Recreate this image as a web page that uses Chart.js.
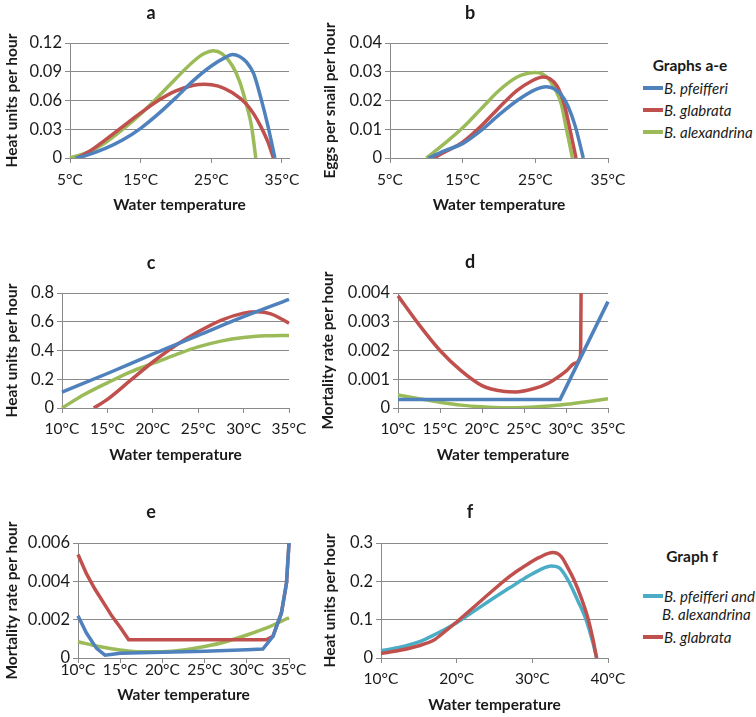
<!DOCTYPE html>
<html>
<head>
<meta charset="utf-8">
<script src="https://cdn.jsdelivr.net/npm/chart.js@4.4.1/dist/chart.umd.min.js"></script>
<style>
  body { margin: 0; background: #fff; width: 756px; height: 717px; position: relative; overflow: hidden; font-family: Lato, "Open Sans", sans-serif; color: #1a1a1a; }
  canvas { position: absolute; }
  .lt { position: absolute; font-size: 15.5px; font-weight: bold; transform: translate(-50%, -50%); white-space: nowrap; }
  .li { position: absolute; font-size: 15px; font-style: italic; transform: translateY(-50%); white-space: nowrap; }
  .sw { position: absolute; width: 20px; height: 4px; margin-top: -2px; }
</style>
</head>
<body>
<canvas id="ca"></canvas>
<canvas id="cb"></canvas>
<canvas id="cc"></canvas>
<canvas id="cd"></canvas>
<canvas id="ce"></canvas>
<canvas id="cf"></canvas>

<div class="lt" style="left:690px;top:65px">Graphs a-e</div>
<div class="sw" style="left:643px;top:88px;background:#4f81bd"></div><div class="li" style="left:664px;top:88px">B. pfeifferi</div>
<div class="sw" style="left:643px;top:110px;background:#c0504d"></div><div class="li" style="left:664px;top:110px">B. glabrata</div>
<div class="sw" style="left:643px;top:132px;background:#9bbb59"></div><div class="li" style="left:664px;top:132px">B. alexandrina</div>

<div class="lt" style="left:692px;top:556px">Graph f</div>
<div class="sw" style="left:643px;top:596px;background:#4bacc6"></div><div class="li" style="left:664px;top:596px">B. pfeifferi and</div>
<div class="li" style="left:662px;top:614px">B. alexandrina</div>
<div class="sw" style="left:643px;top:637px;background:#c0504d"></div><div class="li" style="left:664px;top:637px">B. glabrata</div>

<script>
// a: heat units per hour (development)
const aPfT = [5.8, 7, 10, 12.5, 15, 17.5, 20, 22.5, 25, 27, 28, 29, 30, 31, 32, 33, 34];
const aPfV = [0, 0.002, 0.01, 0.019, 0.031, 0.046, 0.063, 0.081, 0.096, 0.105, 0.108, 0.106, 0.1, 0.088, 0.063, 0.034, 0];
const aGlT = [6, 8, 10, 12.5, 15, 17.5, 20, 22.5, 24, 26, 28, 30, 31, 32, 33, 33.8];
const aGlV = [0, 0.008, 0.019, 0.033, 0.047, 0.06, 0.07, 0.076, 0.077, 0.075, 0.068, 0.056, 0.046, 0.033, 0.017, 0];
const aAlT = [5, 7.5, 10, 12.5, 15, 17.5, 20, 22.5, 24, 25.3, 26.5, 28, 29, 30, 30.7, 31.3];
const aAlV = [0, 0.006, 0.016, 0.03, 0.046, 0.064, 0.083, 0.101, 0.109, 0.112, 0.109, 0.096, 0.08, 0.055, 0.033, 0];
const aYTicks = [0, 0.03, 0.06, 0.09, 0.12];
const aYLabels = ['0', '0.03', '0.06', '0.09', '0.12'];
const aXTicks = [5, 15, 25, 35];

// b: eggs per snail per hour
const bPfT = [10.3, 12.5, 15, 17.5, 20, 22.5, 25, 26.5, 27.5, 28.5, 29.5, 30.5, 31.6];
const bPfV = [0, 0.0025, 0.005, 0.0095, 0.015, 0.02, 0.0238, 0.0248, 0.0242, 0.0222, 0.018, 0.011, 0];
const bGlT = [11, 12.5, 15, 17.5, 20, 22.5, 24.5, 26, 27, 28, 29, 29.8, 30.6];
const bGlV = [0, 0.002, 0.0055, 0.011, 0.0175, 0.0235, 0.0268, 0.0282, 0.0276, 0.025, 0.0185, 0.0095, 0];
const bAlT = [10, 12.5, 15, 17.5, 20, 22.5, 24, 25, 26, 27, 28, 28.6, 29.2, 29.7, 30.1];
const bAlV = [0, 0.005, 0.0105, 0.017, 0.0235, 0.0282, 0.0295, 0.0297, 0.0292, 0.027, 0.0225, 0.0185, 0.011, 0.005, 0];
const bYTicks = [0, 0.01, 0.02, 0.03, 0.04];
const bYLabels = ['0', '0.01', '0.02', '0.03', '0.04'];
const bXTicks = [5, 15, 25, 35];

// c: heat units per hour (second model)
const cPfT = [10, 15, 20, 25, 30, 35];
const cPfV = [0.11, 0.24, 0.375, 0.505, 0.635, 0.755];
const cGlT = [13.5, 15, 17.5, 20, 22.5, 25, 27.5, 30, 31.5, 33, 35];
const cGlV = [0, 0.06, 0.19, 0.32, 0.435, 0.53, 0.61, 0.66, 0.67, 0.655, 0.59];
const cAlT = [10, 12.5, 15, 17.5, 20, 22.5, 25, 27.5, 30, 32.5, 35];
const cAlV = [0, 0.095, 0.175, 0.25, 0.31, 0.37, 0.425, 0.465, 0.49, 0.502, 0.505];
const cYTicks = [0, 0.2, 0.4, 0.6, 0.8];
const cYLabels = ['0', '0.2', '0.4', '0.6', '0.8'];
const cXTicks = [10, 15, 20, 25, 30, 35];

// d: mortality rate per hour
const dPfT = [10, 29.3, 35];
const dPfV = [0.0003, 0.0003, 0.0037];
const dGlT = [10, 12.5, 15, 17.5, 20, 22.5, 24, 26, 28, 30, 31, 31.7, 31.75, 31.85];
const dGlV = [0.0039, 0.0029, 0.002, 0.0013, 0.00078, 0.00058, 0.00056, 0.00066, 0.00088, 0.00128, 0.00155, 0.0018, 0.0022, 0.0065];
const dAlT = [10, 12.5, 15, 17.5, 20, 22.5, 25, 27.5, 30, 32.5, 35];
const dAlV = [0.00045, 0.00032, 0.0002, 0.0001, 0.00004, 0.00001, 0.00002, 0.00006, 0.00013, 0.00022, 0.00032];
const dYTicks = [0, 0.001, 0.002, 0.003, 0.004];
const dYLabels = ['0', '0.001', '0.002', '0.003', '0.004'];
const dXTicks = [10, 15, 20, 25, 30, 35];

// e: mortality rate per hour (second model)
const ePfT = [10, 11, 12.2, 13.2, 15, 20, 25, 30, 31.9, 33.1, 34.1, 34.7, 35];
const ePfV = [0.0022, 0.0013, 0.0005, 0.00015, 0.00025, 0.0003, 0.00035, 0.00043, 0.00047, 0.00113, 0.00235, 0.0039, 0.006];
const eGlT = [10, 11, 12, 13, 14, 15, 16, 32.3, 33.1, 34.1, 34.7, 35];
const eGlV = [0.0054, 0.0044, 0.0036, 0.0029, 0.0022, 0.0016, 0.00095, 0.00095, 0.00113, 0.00235, 0.0039, 0.006];
const eAlT = [10, 12.5, 15, 17.5, 20, 22.5, 25, 27.5, 30, 32.5, 35];
const eAlV = [0.00085, 0.0006, 0.00042, 0.00032, 0.00033, 0.00042, 0.0006, 0.00085, 0.0012, 0.0016, 0.0021];
const eYTicks = [0, 0.002, 0.004, 0.006];
const eYLabels = ['0', '0.002', '0.004', '0.006'];
const eXTicks = [10, 15, 20, 25, 30, 35];

// f: heat units per hour, graph f
const fPaT = [10, 12.5, 15, 17, 20, 22.5, 25, 27, 29, 31, 32.5, 33.5, 34.7, 36, 37.1, 38, 38.5];
const fPaV = [0.019, 0.028, 0.042, 0.06, 0.092, 0.125, 0.158, 0.183, 0.208, 0.23, 0.24, 0.236, 0.204, 0.15, 0.1, 0.04, 0];
const fGlT = [10, 12.5, 15, 17, 18.5, 20, 22.5, 25, 27, 29, 31, 32.7, 33.8, 34.7, 35.5, 36.5, 37.4, 38, 38.5];
const fGlV = [0.012, 0.02, 0.032, 0.047, 0.07, 0.094, 0.137, 0.18, 0.213, 0.24, 0.263, 0.275, 0.265, 0.235, 0.204, 0.155, 0.1, 0.05, 0];
const fYTicks = [0, 0.1, 0.2, 0.3];
const fYLabels = ['0', '0.1', '0.2', '0.3'];
const fXTicks = [10, 20, 30, 40];

const BLUE = '#4f81bd', RED = '#c0504d', GREEN = '#9bbb59', CYAN = '#4bacc6';
const GRID = '#8a8a8a', TXT = '#1a1a1a';

Chart.defaults.font.family = 'Lato, "Open Sans", sans-serif';
Chart.defaults.color = TXT;

function pts(xs, ys) {
  return xs.map((x, i) => ({ x: x, y: ys[i] }));
}

function line(xs, ys, color, smooth) {
  return {
    data: pts(xs, ys),
    borderColor: color,
    borderWidth: 3.5,
    pointRadius: 0,
    fill: false,
    cubicInterpolationMode: smooth ? 'monotone' : 'default',
    tension: 0,
    clip: { left: 4, right: 4, top: 0, bottom: 0 }
  };
}

// g: canvas box (cl, ct, cw, ch), plot area (L, T, R, B), title y, y-title x, x-title y, x tick padding
function panel(id, g, c) {
  const cv = document.getElementById(id);
  cv.style.left = g.cl + 'px';
  cv.style.top = g.ct + 'px';
  cv.width = g.cw;
  cv.height = g.ch;
  const lhT = 18 * 1.2, lhA = 15.5 * 1.2;
  const tTop = g.ty - g.ct - lhT / 2;
  new Chart(cv, {
    type: 'line',
    data: { datasets: c.datasets },
    options: {
      responsive: false,
      animation: false,
      layout: { padding: 0 },
      plugins: {
        legend: { display: false },
        tooltip: { enabled: false },
        title: {
          display: true,
          text: c.title,
          color: TXT,
          font: { size: 18, weight: 'bold' },
          padding: { top: tTop, bottom: g.T - g.ct - tTop - lhT }
        }
      },
      scales: {
        x: {
          type: 'linear',
          min: c.xMin,
          max: c.xMax,
          afterBuildTicks: s => { s.ticks = c.xTicks.map(v => ({ value: v })); },
          afterFit: s => {
            s.height = g.ct + g.ch - g.B;
            s.paddingLeft = 0;
            s.paddingRight = g.cl + g.cw - g.R;
          },
          grid: { drawOnChartArea: false, tickLength: 5, color: GRID },
          border: { color: GRID },
          ticks: { padding: g.xp, maxRotation: 0, color: TXT, font: { size: 15.5 }, callback: v => v + '°C' },
          title: {
            display: true,
            text: 'Water temperature',
            color: TXT,
            font: { size: 15.5, weight: 'bold' },
            padding: { top: 0, bottom: g.ct + g.ch - g.xy - lhA / 2 }
          }
        },
        y: {
          min: c.yTicks[0],
          max: c.yTicks[c.yTicks.length - 1],
          afterBuildTicks: s => { s.ticks = c.yTicks.map(v => ({ value: v })); },
          afterFit: s => {
            s.width = g.L - g.cl;
            s.paddingTop = 0;
            s.paddingBottom = 0;
          },
          grid: { tickLength: 5, color: GRID },
          border: { color: GRID },
          ticks: { padding: 3, color: TXT, font: { size: 16.5 }, callback: (v, i) => c.yLabels[i] },
          title: {
            display: true,
            text: c.yTitle,
            color: TXT,
            font: { size: 15.5, weight: 'bold' },
            padding: { top: g.yx - g.cl - lhA / 2, bottom: 0 }
          }
        }
      }
    }
  });
}

panel('ca', { cl: -4, ct: 0, cw: 310, ch: 215, L: 70, T: 43, R: 289, B: 158, ty: 13, yx: 12, xy: 205, xp: 8 }, {
  title: 'a', yTitle: 'Heat units per hour', xMin: 5, xMax: 36, xTicks: aXTicks, yTicks: aYTicks, yLabels: aYLabels,
  datasets: [line(aPfT, aPfV, BLUE, true), line(aGlT, aGlV, RED, true), line(aAlT, aAlV, GREEN, true)]
});

panel('cb', { cl: 314, ct: 0, cw: 312, ch: 215, L: 390, T: 43, R: 608, B: 158, ty: 13, yx: 330, xy: 205, xp: 8 }, {
  title: 'b', yTitle: 'Eggs per snail per hour', xMin: 5, xMax: 35, xTicks: bXTicks, yTicks: bYTicks, yLabels: bYLabels,
  datasets: [line(bPfT, bPfV, BLUE, true), line(bGlT, bGlV, RED, true), line(bAlT, bAlV, GREEN, true)]
});

panel('cc', { cl: -4, ct: 245, cw: 310, ch: 220, L: 62, T: 293, R: 289, B: 408, ty: 263, yx: 12, xy: 455, xp: 7 }, {
  title: 'c', yTitle: 'Heat units per hour', xMin: 10, xMax: 35, xTicks: cXTicks, yTicks: cYTicks, yLabels: cYLabels,
  datasets: [line(cPfT, cPfV, BLUE, true), line(cGlT, cGlV, RED, true), line(cAlT, cAlV, GREEN, true)]
});

panel('cd', { cl: 314, ct: 245, cw: 312, ch: 220, L: 398, T: 293, R: 608, B: 408, ty: 262, yx: 328, xy: 455, xp: 7 }, {
  title: 'd', yTitle: 'Mortality rate per hour', xMin: 10, xMax: 35, xTicks: dXTicks, yTicks: dYTicks, yLabels: dYLabels,
  datasets: [line(dPfT, dPfV, BLUE, false), line(dGlT, dGlV, RED, true), line(dAlT, dAlV, GREEN, true)]
});

panel('ce', { cl: -4, ct: 490, cw: 310, ch: 215, L: 78, T: 543, R: 289, B: 658, ty: 512, yx: 12, xy: 695, xp: -2 }, {
  title: 'e', yTitle: 'Mortality rate per hour', xMin: 10, xMax: 35, xTicks: eXTicks, yTicks: eYTicks, yLabels: eYLabels,
  datasets: [line(ePfT, ePfV, BLUE, false), line(eGlT, eGlV, RED, false), line(eAlT, eAlV, GREEN, true)]
});

panel('cf', { cl: 314, ct: 490, cw: 312, ch: 225, L: 381, T: 543, R: 608, B: 658, ty: 512, yx: 330, xy: 705, xp: 7 }, {
  title: 'f', yTitle: 'Heat units per hour', xMin: 10, xMax: 40, xTicks: fXTicks, yTicks: fYTicks, yLabels: fYLabels,
  datasets: [line(fGlT, fGlV, RED, true), line(fPaT, fPaV, CYAN, true)]
});
</script>
</body>
</html>
